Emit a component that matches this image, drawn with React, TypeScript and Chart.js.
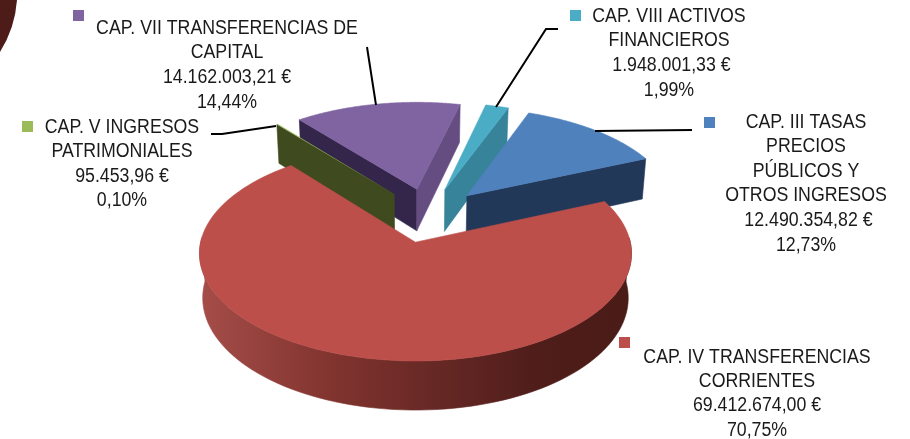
import { useEffect, useRef } from "react";
import { Chart, registerables } from "chart.js";

Chart.register(...registerables);

const categories = [
  "CAP. III TASAS PRECIOS PÚBLICOS Y OTROS INGRESOS",
  "CAP. IV TRANSFERENCIAS CORRIENTES",
  "CAP. V INGRESOS PATRIMONIALES",
  "CAP. VII TRANSFERENCIAS DE CAPITAL",
  "CAP. VIII ACTIVOS FINANCIEROS",
];
const values = [12490354.82, 69412674.0, 95453.96, 14162003.21, 1948001.33];
const amountLabels = [" 12.490.354,82 €", "69.412.674,00 €", "95.453,96 €", "14.162.003,21 €", " 1.948.001,33 €"];
const percentLabels = ["12,73%", "70,75%", "0,10%", "14,44%", "1,99%"];
const nameLines = [
  ["CAP. III TASAS", "PRECIOS", "PÚBLICOS Y", "OTROS INGRESOS"],
  ["CAP. IV TRANSFERENCIAS", "CORRIENTES"],
  ["CAP. V INGRESOS", "PATRIMONIALES"],
  ["CAP. VII TRANSFERENCIAS DE", "CAPITAL"],
  ["CAP. VIII ACTIVOS", "FINANCIEROS"],
];
const topColors = ["#4f81bd", "#bd4f4b", "#9bbb59", "#8064a2", "#4bacc6"];
const startWallColors = ["#223859", "#4d1c18", "#404a1f", "#33264a", "#37839a"];
const endWallColors = ["#223859", "#4d1c18", "#404a1f", "#654d82", "#37839a"];

const labelBoxes = [
  { cx: 806, y: 122, step: 24.6, sq: [704, 117] },
  { cx: 757, y: 357, step: 24.4, sq: [619, 337] },
  { cx: 122, y: 127, step: 24.6, sq: [22, 121] },
  { cx: 227, y: 28, step: 24.8, sq: [73, 10] },
  { cx: 669, y: 16, step: 24.8, sq: [570, 10] },
];
const leaders = [
  [[692, 130], [595, 131]],
  [],
  [[211, 134], [222, 134], [276, 126]],
  [[367, 47], [376, 105]],
  [[558, 29], [546, 29], [496, 107]],
];

const CX = 415, CY = 243, AX = 215, BY = 106.5, P = 0.105, H = 44;
const SHIFT_X = 0.067, SHIFT_Y = -0.27;
const TEXT_STRETCH = 0.865;

function project(X: number, Y: number, lower: boolean): [number, number] {
  const s = 1 / (1 - P * Y);
  if (lower) return [CX + AX * 0.985 * X * s, CY + (BY * Y + H) * s];
  return [CX + AX * X * s, CY + BY * Y * s];
}

function poly(ctx: CanvasRenderingContext2D, pts: [number, number][], fill: string | CanvasGradient, edge = true) {
  ctx.beginPath();
  pts.forEach((p, i) => (i ? ctx.lineTo(p[0], p[1]) : ctx.moveTo(p[0], p[1])));
  ctx.closePath();
  ctx.fillStyle = fill;
  ctx.fill();
  if (edge) {
    ctx.strokeStyle = fill;
    ctx.lineWidth = 0.6;
    ctx.stroke();
  }
}

const pie3d = {
  id: "pie3d",
  beforeDatasetsDraw(chart: any) {
    const ctx: CanvasRenderingContext2D = chart.ctx;
    const arcs = chart.getDatasetMeta(0).data;
    ctx.save();

    // dark remnant in the top-left corner of the picture
    ctx.beginPath();
    ctx.moveTo(0, 0);
    ctx.lineTo(17, 0);
    ctx.quadraticCurveTo(15, 28, 0, 52);
    ctx.closePath();
    ctx.fillStyle = "#4d1c18";
    ctx.fill();

    const order = [4, 3, 2, 0, 1];
    for (const i of order) {
      const a = arcs[i];
      const R = a.outerRadius;
      const off = a.options.offset / R;
      const mid = (a.startAngle + a.endAngle) / 2;
      const ox = off * Math.cos(mid) + SHIFT_X;
      const oy = off * Math.sin(mid) + SHIFT_Y;
      const n = 120;
      const rim: { t: number; X: number; Y: number }[] = [];
      for (let k = 0; k <= n; k++) {
        const t = a.startAngle + ((a.endAngle - a.startAngle) * k) / n;
        rim.push({ t, X: ox + Math.cos(t), Y: oy + Math.sin(t) });
      }
      // curved outer wall
      const facing = rim.filter((r) => Math.sin(r.t) > -0.05);
      if (facing.length > 1) {
        const pts: [number, number][] = [
          ...facing.map((r) => project(r.X, r.Y, false)),
          ...[...facing].reverse().map((r) => project(r.X, r.Y, true)),
        ];
        const g = ctx.createLinearGradient(200, 0, 631, 0);
        g.addColorStop(0, "#a54d49");
        g.addColorStop(0.3, "#82342f");
        g.addColorStop(0.55, "#662825");
        g.addColorStop(0.78, "#4f1d1a");
        g.addColorStop(1, "#4a1b17");
        poly(ctx, pts, g);
      }
      // straight walls that turn towards the viewer
      const first = rim[0];
      const last = rim[n];
      if (-Math.cos(a.startAngle) > 0) {
        poly(ctx, [
          project(ox, oy, false),
          project(first.X, first.Y, false),
          project(first.X, first.Y, true),
          project(ox, oy, true),
        ], startWallColors[i]);
      }
      if (Math.cos(a.endAngle) > 0) {
        poly(ctx, [
          project(ox, oy, false),
          project(last.X, last.Y, false),
          project(last.X, last.Y, true),
          project(ox, oy, true),
        ], endWallColors[i]);
      }
      // top face
      poly(
        ctx,
        [project(ox, oy, false), ...rim.map((r) => project(r.X, r.Y, false))],
        topColors[i],
        a.endAngle - a.startAngle > 0.05
      );
    }
    ctx.restore();
    return false;
  },
  afterDraw(chart: any) {
    const ctx: CanvasRenderingContext2D = chart.ctx;
    ctx.save();
    ctx.font = '20.5px "Liberation Sans"';
    ctx.textAlign = "center";
    ctx.textBaseline = "middle";
    categories.forEach((_, i) => {
      const box = labelBoxes[i];
      ctx.fillStyle = topColors[i];
      ctx.fillRect(box.sq[0], box.sq[1], 11, 11);
      ctx.fillStyle = "#1a1a1a";
      const lines = [...nameLines[i], amountLabels[i], percentLabels[i]];
      lines.forEach((line, k) => {
        ctx.save();
        ctx.translate(box.cx, box.y + k * box.step);
        ctx.scale(TEXT_STRETCH, 1);
        ctx.fillText(line, 0, 0);
        ctx.restore();
      });
      const l = leaders[i];
      if (l.length) {
        ctx.beginPath();
        l.forEach((p, k) => (k ? ctx.lineTo(p[0], p[1]) : ctx.moveTo(p[0], p[1])));
        ctx.strokeStyle = "#000";
        ctx.lineWidth = 2;
        ctx.stroke();
      }
    });
    ctx.restore();
  },
};

export default function App() {
  const ref = useRef<HTMLCanvasElement>(null);
  useEffect(() => {
    document.body.style.margin = "0";
    const chart = new Chart(ref.current!, {
      type: "pie",
      data: {
        labels: categories,
        datasets: [{ data: values, backgroundColor: topColors, offset: 27, borderWidth: 0 }],
      },
      options: {
        responsive: false,
        animation: false,
        rotation: 20.7,
        radius: 100,
        plugins: { legend: { display: false }, tooltip: { enabled: false } },
      },
      plugins: [pie3d],
    } as any);
    return () => chart.destroy();
  }, []);
  return (
    <div style={{ width: 910, height: 439, background: "#fff" }}>
      <canvas ref={ref} width={910} height={439} style={{ display: "block", filter: "blur(0.4px)" }} />
    </div>
  );
}
